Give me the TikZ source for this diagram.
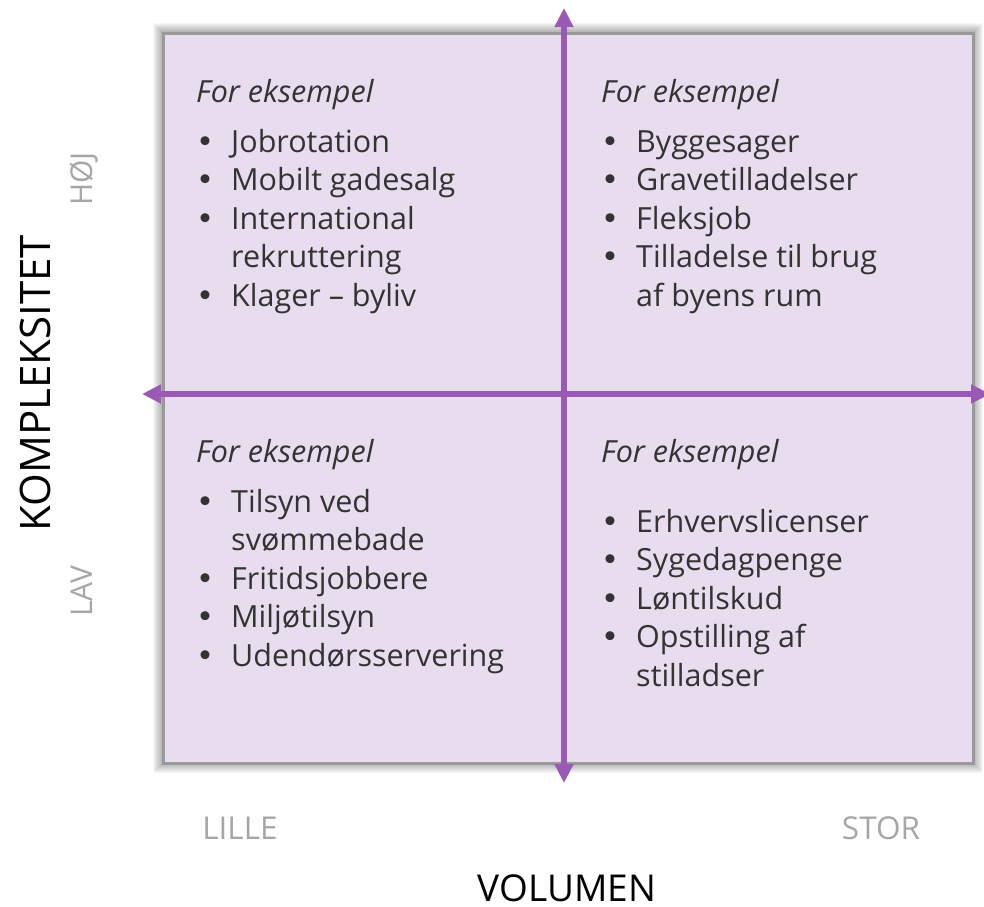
\documentclass[tikz,border=0pt]{standalone}
\usepackage{fontspec}
\setmainfont{Open Sans}
\newfontfamily\punktfont{DejaVu Sans}
\usetikzlibrary{arrows.meta}

\definecolor{lilla}{RGB}{155,89,182}
\definecolor{lyslilla}{RGB}{232,221,238}
\definecolor{graa}{RGB}{166,166,166}

% bullet with fixed indent
\newcommand{\pkt}{\makebox[35pt][l]{{\punktfont •}}}
\newcommand{\ind}{\hspace*{35pt}}

\tikzset{
  overskrift/.style={anchor=base west, inner sep=0pt, text=black!80,
    font=\fontsize{30.5}{38}\selectfont\itshape},
  % lists are placed by the baseline of their last line
  liste/.style={anchor=base west, inner sep=0pt, align=left, text=black!80,
    font=\fontsize{30.5}{38.5}\selectfont},
  niveau/.style={anchor=base, inner sep=0pt, text=graa,
    font=\fontsize{31.5}{33}\selectfont},
  akse/.style={line width=6pt, draw=lilla,
    {Triangle[length=19pt,width=18pt]}-{Triangle[length=19pt,width=18pt]}},
}

\begin{document}
\begin{tikzpicture}[x=1pt, y=-1pt]
	\useasboundingbox (0,0) rectangle (984,906);

	% soft shadow round the matrix
	\foreach \d in {1,...,10}
		\fill[black, opacity=0.035] (163-\d,33-\d) rectangle (973+\d,763+\d);
	\node[draw=black!40, line width=3pt, fill=lyslilla, inner sep=0pt,
		minimum width=810pt, minimum height=730pt] (kasse) at (568,398) {};

	% axes
	\coordinate (nord) at (564,8);
	\coordinate (syd) at (564,783);
	\coordinate (vest) at (142,394);
	\coordinate (oest) at (990,394);
	\draw[akse] (syd) -- (nord);
	\draw[akse] (vest) -- (oest);

	% quadrants
	\node[overskrift] (hovedVO) at (196,102) {For eksempel};
	\node[liste] (listeVO) at (196,306) {\pkt Jobrotation\\ \pkt Mobilt gadesalg\\
		\pkt International\\ \ind rekruttering\\ \pkt Klager -- byliv};

	\node[overskrift] (hovedHO) at (601,102) {For eksempel};
	\node[liste] (listeHO) at (601,306) {\pkt Byggesager\\ \pkt Gravetilladelser\\
		\pkt Fleksjob\\ \pkt Tilladelse til brug\\ \ind af byens rum};

	\node[overskrift] (hovedVN) at (196,462) {For eksempel};
	\node[liste] (listeVN) at (196,666) {\pkt Tilsyn ved\\ \ind svømmebade\\
		\pkt Fritidsjobbere\\ \pkt Miljøtilsyn\\ \pkt Udendørsservering};

	\node[overskrift] (hovedHN) at (601,462) {For eksempel};
	\node[liste] (listeHN) at (601,686) {\pkt Erhvervslicenser\\ \pkt Sygedagpenge\\
		\pkt Løntilskud\\ \pkt Opstilling af\\ \ind stilladser};

	% axis titles
	\node[niveau] (lille) at (240,839) {LILLE};
	\node[niveau] (stor) at (881,839) {STOR};
	\node[anchor=base, inner sep=0pt, font=\fontsize{37}{39}\selectfont] (volumen) at (567,901) {VOLUMEN};
	\node[niveau, rotate=90, font=\fontsize{30}{32}\selectfont] (hoej) at (92,179) {HØJ};
	\node[niveau, rotate=90, font=\fontsize{30}{32}\selectfont] (lav) at (92,591) {LAV};
	\node[anchor=base, inner sep=0pt, rotate=90, font=\fontsize{42}{44}\selectfont] (kompleksitet) at (50,383) {KOMPLEKSITET};
\end{tikzpicture}
\end{document}
